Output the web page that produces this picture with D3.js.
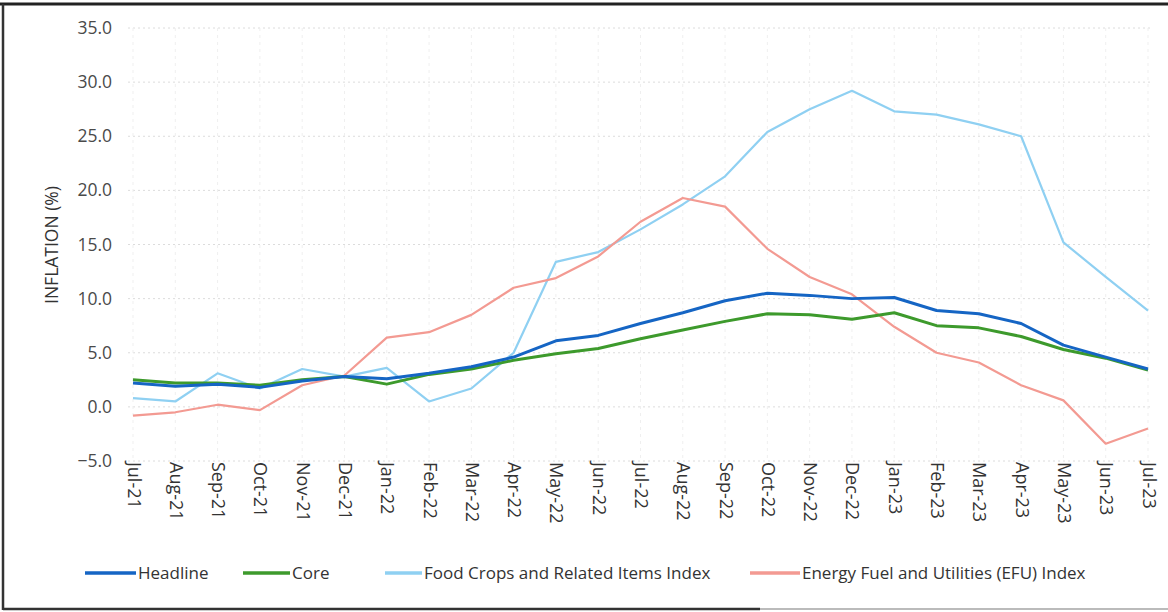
<!DOCTYPE html>
<html><head><meta charset="utf-8">
<script src="https://cdn.jsdelivr.net/npm/d3@7/dist/d3.min.js"></script>
<style>body{margin:0;background:#fff;}svg{display:block;}</style>
</head><body>
<svg id="chart" width="1168" height="612"></svg>
<script>
const months = ["Jul-21","Aug-21","Sep-21","Oct-21","Nov-21","Dec-21","Jan-22","Feb-22","Mar-22","Apr-22","May-22","Jun-22","Jul-22","Aug-22","Sep-22","Oct-22","Nov-22","Dec-22","Jan-23","Feb-23","Mar-23","Apr-23","May-23","Jun-23","Jul-23"];
const headline = [2.2,1.9,2.1,1.8,2.4,2.8,2.6,3.1,3.7,4.6,6.1,6.6,7.7,8.7,9.8,10.5,10.3,10.0,10.1,8.9,8.6,7.7,5.7,4.6,3.5];
const core = [2.5,2.2,2.2,2.0,2.5,2.8,2.1,3.0,3.5,4.3,4.9,5.4,6.3,7.1,7.9,8.6,8.5,8.1,8.7,7.5,7.3,6.5,5.3,4.5,3.4];
const food = [0.8,0.5,3.1,1.7,3.5,2.8,3.6,0.5,1.7,5.0,13.4,14.3,16.4,18.7,21.3,25.4,27.5,29.2,27.3,27.0,26.1,25.0,15.2,12.0,8.9];
const efu = [-0.8,-0.5,0.2,-0.3,2.0,2.9,6.4,6.9,8.5,11.0,11.9,13.9,17.1,19.3,18.5,14.6,12.0,10.4,7.4,5.0,4.1,2.0,0.6,-3.4,-2.0];
const yTicks = [-5,0,5,10,15,20,25,30,35];
const seriesNames = ["Headline","Core","Food Crops and Related Items Index","Energy Fuel and Utilities (EFU) Index"];
const seriesColors = ["#1565c4","#3d9a2c","#8fd0f2","#f39a92"];
const seriesWidths = [3,3,2.2,2.2];
const seriesData = [headline, core, food, efu];

const svg = d3.select("#chart");
const x = d3.scalePoint().domain(months).range([133,1148]);
const y = d3.scaleLinear().domain([-5,35]).range([461,28]);

// frame
svg.append("line").attr("x1",0).attr("x2",1168).attr("y1",4).attr("y2",4).attr("stroke","#222").attr("stroke-width",3);
svg.append("line").attr("x1",3).attr("x2",3).attr("y1",4).attr("y2",610).attr("stroke","#333").attr("stroke-width",2.5);
svg.append("line").attr("x1",3).attr("x2",760).attr("y1",609).attr("y2",609).attr("stroke","#333").attr("stroke-width",2.5);
svg.append("line").attr("x1",760).attr("x2",1168).attr("y1",609).attr("y2",609).attr("stroke","#bbb").attr("stroke-width",2);

// grid
const g = svg.append("g");
g.selectAll("line.h").data(yTicks).join("line").attr("class","h")
  .attr("x1",128).attr("x2",1152).attr("y1",d=>y(d)).attr("y2",d=>y(d))
  .attr("stroke","#dcdcdc").attr("stroke-width",1).attr("stroke-dasharray","2,3");
g.selectAll("line.v").data(months).join("line").attr("class","v")
  .attr("x1",d=>x(d)).attr("x2",d=>x(d)).attr("y1",y(35)).attr("y2",y(-5))
  .attr("stroke","#efefef").attr("stroke-width",1).attr("stroke-dasharray","3,4");

// y axis
const yAxis = svg.append("g").attr("transform","translate(112,0)")
  .call(d3.axisLeft(y).tickValues(yTicks).tickFormat(d3.format(".1f")).tickSize(0).tickPadding(0));
yAxis.select(".domain").remove();
yAxis.selectAll("text").attr("font-family","Open Sans").attr("font-size",17.5).attr("fill","#4a4a4a").attr("text-anchor","end");

// x axis
const xAxis = svg.append("g").attr("transform","translate(0,462)")
  .call(d3.axisBottom(x).tickSize(0).tickPadding(0));
xAxis.select(".domain").remove();
xAxis.selectAll("text").attr("font-family","Liberation Sans Narrow, Open Sans").attr("font-size",18).attr("fill","#333")
  .attr("text-anchor","start").attr("dy",0).attr("y",0).attr("x",0)
  .attr("transform","rotate(90) translate(0,6)");

// y label
svg.append("text").attr("transform","translate(58,245) rotate(-90)").attr("text-anchor","middle")
  .attr("font-family","Open Sans").attr("font-size",17.5).attr("fill","#333").text("INFLATION (%)");

// lines
const line = d3.line().x((d,i)=>x(months[i])).y(d=>y(d));
[2,3,1,0].forEach(k=>{
  svg.append("path").datum(seriesData[k]).attr("d",line).attr("fill","none")
    .attr("stroke",seriesColors[k]).attr("stroke-width",seriesWidths[k]).attr("stroke-linejoin","round");
});

// legend
const legX = [85,243,385,750];
const legLen = [51,47,37,50];
const lg = svg.append("g").attr("transform","translate(0,573)");
seriesNames.forEach((n,k)=>{
  lg.append("line").attr("x1",legX[k]).attr("x2",legX[k]+legLen[k]).attr("y1",0).attr("y2",0)
    .attr("stroke",seriesColors[k]).attr("stroke-width",3.5);
  lg.append("text").attr("x",legX[k]+legLen[k]+2).attr("y",6).attr("font-family","Open Sans")
    .attr("font-size",17).attr("fill","#333").text(n);
});
</script>
</body></html>
